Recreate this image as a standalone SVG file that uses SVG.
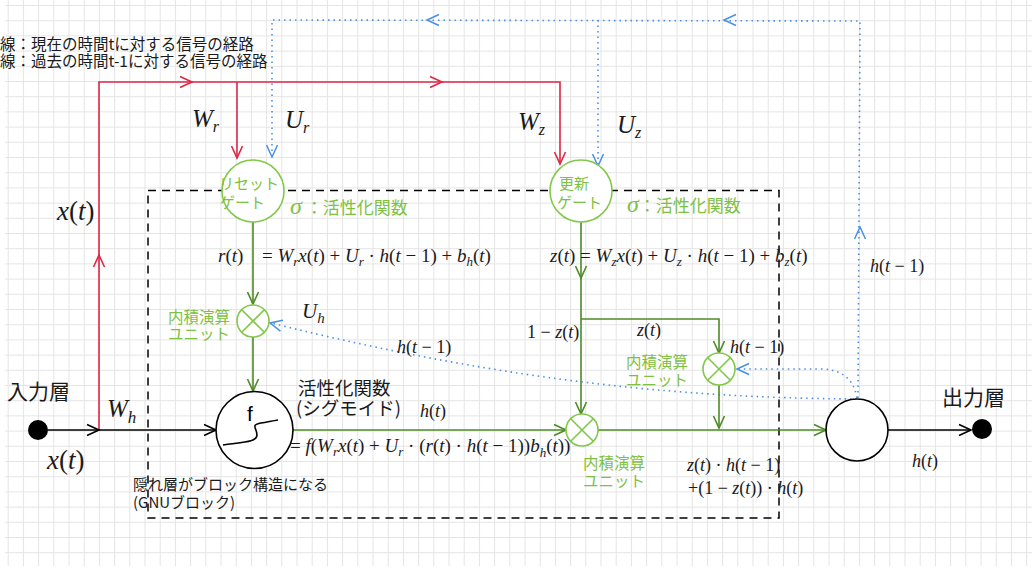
<svg xmlns="http://www.w3.org/2000/svg" width="1032" height="572" viewBox="0 0 1032 572">
<defs>
<pattern id="grid" x="7.7" y="5" width="15.2" height="15.2" patternUnits="userSpaceOnUse">
<path d="M0.5 0V15.2M0 0.5H15.2" stroke="#e4e4e4" stroke-width="1" fill="none"/>
</pattern>
<marker id="aR" markerUnits="userSpaceOnUse" markerWidth="16" markerHeight="16" refX="13" refY="7" orient="auto" overflow="visible"><path d="M1,1.5 L13,7 L1,12.5" fill="none" stroke="#dc2745" stroke-width="1.6"/></marker>
<marker id="aB" markerUnits="userSpaceOnUse" markerWidth="16" markerHeight="16" refX="13" refY="7" orient="auto" overflow="visible"><path d="M1,1.5 L13,7 L1,12.5" fill="none" stroke="#4a8fe6" stroke-width="1.5"/></marker>
<marker id="aG" markerUnits="userSpaceOnUse" markerWidth="16" markerHeight="16" refX="13" refY="7" orient="auto" overflow="visible"><path d="M1,1.5 L13,7 L1,12.5" fill="none" stroke="#4d8a26" stroke-width="1.6"/></marker>
<marker id="aK" markerUnits="userSpaceOnUse" markerWidth="16" markerHeight="16" refX="13" refY="7" orient="auto" overflow="visible"><path d="M1,1.5 L13,7 L1,12.5" fill="none" stroke="#000" stroke-width="1.6"/></marker>
<style>
.red{stroke:#dc2745;stroke-width:1.6;fill:none}
.blue{stroke:#4a8fe6;stroke-width:1.6;fill:none;stroke-dasharray:1.5 4}
.grn{stroke:#4d8a26;stroke-width:1.6;fill:none}
.blk{stroke:#000;stroke-width:1.6;fill:none}
.mk{fill:none;stroke:none}
.lg{stroke:#82c84a;stroke-width:1.6;fill:#fff}
.lgx{stroke:#82c84a;stroke-width:1.6;fill:none}
.nd{stroke:#000;stroke-width:1.6;fill:#fff}
.m{font-family:"Liberation Serif",serif;fill:#1a1a1a}
.i{font-style:italic}
.jp{font-family:"Noto Sans CJK JP",sans-serif;fill:#1a1a1a}
.gt{font-family:"Noto Sans CJK JP",sans-serif;fill:#7dc142}
.gs{font-family:"Liberation Serif",serif;font-style:italic;fill:#7dc142}
</style>
</defs>
<rect x="0" y="0" width="1032" height="572" fill="#fff"/>
<rect x="5" y="0" width="1027" height="566" fill="url(#grid)"/>

<g id="legend">
<text class="jp" x="0" y="50" font-size="15.5">線：現在の時間tに対する信号の経路</text>
<text class="jp" x="0" y="67" font-size="15.5">線：過去の時間t-1に対する信号の経路</text>
</g>

<g id="gru-block">
<rect x="148" y="190.5" width="631" height="327.5" fill="none" stroke="#000" stroke-width="1.5" stroke-dasharray="8 6"/>
<text class="jp" x="133" y="490" font-size="15">隠れ層がブロック構造になる</text>
<text class="jp" x="133" y="508" font-size="15">(GNUブロック)</text>
</g>

<g id="connectors">
<path class="red" d="M99,430 V82 H560 V164" marker-end="url(#aR)"/>
<path class="red" d="M237,82 V158" marker-end="url(#aR)"/>
<path class="mk" d="M180,82 H192" marker-end="url(#aR)"/>
<path class="mk" d="M430,82 H442" marker-end="url(#aR)"/>
<path class="mk" d="M99,268 V255" marker-end="url(#aR)"/>
<path class="blue" d="M858,398 L860,21 L272,20 V156"/>
<path class="mk" d="M272,140 V157" marker-end="url(#aB)"/>
<path class="blue" d="M598,20 V165"/>
<path class="mk" d="M598,150 V166" marker-end="url(#aB)"/>
<path class="mk" d="M860,240 V227" marker-end="url(#aB)"/>
<path class="mk" d="M440,20 H427" marker-end="url(#aB)"/>
<path class="mk" d="M737,20 H724" marker-end="url(#aB)"/>
<path class="blue" d="M857,399 C700,398 520,385 271,323"/>
<path class="mk" d="M283,326 L270,323" marker-end="url(#aB)"/>
<path class="blue" d="M857,398 Q852,369 820,369 H737"/>
<path class="mk" d="M750,369 H737" marker-end="url(#aB)"/>
<path class="grn" d="M253,222 V304" marker-end="url(#aG)"/>
<path class="grn" d="M253,337 V391" marker-end="url(#aG)"/>
<path class="grn" d="M293,430 H566" marker-end="url(#aG)"/>
<path class="grn" d="M598,430 H826" marker-end="url(#aG)"/>
<path class="grn" d="M581,222 V414" marker-end="url(#aG)"/>
<path class="mk" d="M581,265 V278" marker-end="url(#aG)"/>
<path class="grn" d="M581,319 H719 V353" marker-end="url(#aG)"/>
<path class="grn" d="M719,385 V428" marker-end="url(#aG)"/>
<path class="blk" d="M48,430 H99" marker-end="url(#aK)"/>
<path class="blk" d="M99,430 H216" marker-end="url(#aK)"/>
<path class="blk" d="M888,430 H971" marker-end="url(#aK)"/>
</g>

<g id="input-layer">
<circle cx="38" cy="430" r="10" fill="#000"/>
<text class="jp" x="7" y="399" font-size="21">入力層</text>
</g>

<g id="output-layer">
<circle cx="982" cy="429" r="10" fill="#000"/>
<text class="jp" x="942" y="405" font-size="21">出力層</text>
</g>

<g id="reset-gate">
<circle class="lg" cx="253" cy="191" r="31"/>
<text class="gt" x="219" y="189" font-size="15">リセット</text>
<text class="gt" x="220" y="208" font-size="15">ゲート</text>
<text x="290" y="214"><tspan class="gs" font-size="24">σ</tspan><tspan class="gt" font-size="17"> ：活性化関数</tspan></text>
</g>

<g id="update-gate">
<circle class="lg" cx="581" cy="191" r="31"/>
<text class="gt" x="559" y="189" font-size="15">更新</text>
<text class="gt" x="557" y="208" font-size="15">ゲート</text>
<text x="627" y="212"><tspan class="gs" font-size="24">σ</tspan><tspan class="gt" font-size="17">：活性化関数</tspan></text>
</g>

<g id="reset-product">
<circle class="lg" cx="253" cy="321" r="16"/>
<path class="lgx" d="M241.7,309.7 L264.3,332.3 M264.3,309.7 L241.7,332.3"/>
<text class="gt" x="168" y="323" font-size="15.5">内積演算</text>
<text class="gt" x="168" y="340" font-size="15.5">ユニット</text>
</g>

<g id="activation">
<circle class="nd" cx="254.5" cy="430" r="38.5"/>
<text x="247" y="421" font-family="Liberation Sans, sans-serif" font-size="21" fill="#000">f</text>
<path d="M223,445 C243,442 257,442 257,435 C257,428 250,425 261,423 C267,422 272,421 278,420" fill="none" stroke="#000" stroke-width="1.6"/>
<text class="jp" x="298" y="395" font-size="18.5">活性化関数</text>
<text class="jp" x="296" y="415" font-size="18.5">(シグモイド)</text>
</g>

<g id="main-product">
<circle class="lg" cx="582" cy="430" r="16"/>
<path class="lgx" d="M570.7,418.7 L593.3,441.3 M593.3,418.7 L570.7,441.3"/>
<text class="gt" x="583" y="469" font-size="15.5">内積演算</text>
<text class="gt" x="583" y="487" font-size="15.5">ユニット</text>
</g>

<g id="z-product">
<circle class="lg" cx="719" cy="369" r="16"/>
<path class="lgx" d="M707.7,357.7 L730.3,380.3 M730.3,357.7 L707.7,380.3"/>
<text class="gt" x="626" y="368" font-size="15.5">内積演算</text>
<text class="gt" x="626" y="386" font-size="15.5">ユニット</text>
</g>

<g id="output-unit">
<circle class="nd" cx="857" cy="430" r="31"/>
</g>

<g id="labels">
<text class="m" x="192" y="127" font-size="25"><tspan class="i">W</tspan><tspan class="i" font-size="16" dy="5">r</tspan></text>
<text class="m" x="285" y="128" font-size="25"><tspan class="i">U</tspan><tspan class="i" font-size="16" dy="5">r</tspan></text>
<text class="m" x="518" y="130" font-size="25"><tspan class="i">W</tspan><tspan class="i" font-size="16" dy="5">z</tspan></text>
<text class="m" x="617" y="133" font-size="25"><tspan class="i">U</tspan><tspan class="i" font-size="16" dy="5">z</tspan></text>
<text class="m" x="57" y="220" font-size="27"><tspan class="i">x</tspan>(<tspan class="i">t</tspan>)</text>
<text class="m" x="107" y="417" font-size="25"><tspan class="i">W</tspan><tspan class="i" font-size="17" dy="6">h</tspan></text>
<text class="m" x="47" y="469" font-size="27"><tspan class="i">x</tspan>(<tspan class="i">t</tspan>)</text>
<text class="m" x="302" y="318" font-size="21"><tspan class="i">U</tspan><tspan class="i" font-size="15" dy="5">h</tspan></text>
<text class="m" x="397" y="353" font-size="18"><tspan class="i">h</tspan>(<tspan class="i">t</tspan> − 1)</text>
<text class="m" x="527" y="338" font-size="18">1 − <tspan class="i">z</tspan>(<tspan class="i">t</tspan>)</text>
<text class="m" x="637" y="336" font-size="18"><tspan class="i">z</tspan>(<tspan class="i">t</tspan>)</text>
<text class="m" x="730" y="353" font-size="18"><tspan class="i">h</tspan>(<tspan class="i">t</tspan> − 1)</text>
<text class="m" x="870" y="272" font-size="18"><tspan class="i">h</tspan>(<tspan class="i">t</tspan> − 1)</text>
<text class="m" x="420" y="417" font-size="18"><tspan class="i">h</tspan>(<tspan class="i">t</tspan>)</text>
<text class="m" x="912" y="467" font-size="18"><tspan class="i">h</tspan>(<tspan class="i">t</tspan>)</text>
<text class="m" x="218" y="262" font-size="19"><tspan class="i">r</tspan>(<tspan class="i">t</tspan>)</text>
<text class="m" x="262" y="262" font-size="19">= <tspan class="i">W</tspan><tspan class="i" font-size="13" dy="4">r</tspan><tspan class="i" dy="-4">x</tspan>(<tspan class="i">t</tspan>) + <tspan class="i">U</tspan><tspan class="i" font-size="13" dy="4">r</tspan><tspan dy="-4"> · </tspan><tspan class="i">h</tspan>(<tspan class="i">t</tspan> − 1) + <tspan class="i">b</tspan><tspan class="i" font-size="13" dy="4">h</tspan><tspan dy="-4">(</tspan><tspan class="i">t</tspan>)</text>
<text class="m" x="550" y="262" font-size="19"><tspan class="i">z</tspan>(<tspan class="i">t</tspan>) = <tspan class="i">W</tspan><tspan class="i" font-size="13" dy="4">z</tspan><tspan class="i" dy="-4">x</tspan>(<tspan class="i">t</tspan>) + <tspan class="i">U</tspan><tspan class="i" font-size="13" dy="4">z</tspan><tspan dy="-4"> · </tspan><tspan class="i">h</tspan>(<tspan class="i">t</tspan> − 1) + <tspan class="i">b</tspan><tspan class="i" font-size="13" dy="4">z</tspan><tspan dy="-4">(</tspan><tspan class="i">t</tspan>)</text>
<text class="m" x="290" y="452" font-size="19">= <tspan class="i">f</tspan>(<tspan class="i">W</tspan><tspan class="i" font-size="13" dy="4">r</tspan><tspan class="i" dy="-4">x</tspan>(<tspan class="i">t</tspan>) + <tspan class="i">U</tspan><tspan class="i" font-size="13" dy="4">r</tspan><tspan dy="-4"> · (</tspan><tspan class="i">r</tspan>(<tspan class="i">t</tspan>) · <tspan class="i">h</tspan>(<tspan class="i">t</tspan> − 1))<tspan class="i">b</tspan><tspan class="i" font-size="13" dy="5">h</tspan><tspan dy="-5">(</tspan><tspan class="i">t</tspan>))</text>
<text class="m" x="687" y="471" font-size="18"><tspan class="i">z</tspan>(<tspan class="i">t</tspan>) · <tspan class="i">h</tspan>(<tspan class="i">t</tspan> − 1)</text>
<text class="m" x="688" y="494" font-size="18">+(1 − <tspan class="i">z</tspan>(<tspan class="i">t</tspan>)) · <tspan class="i">h</tspan>(<tspan class="i">t</tspan>)</text>
</g>
</svg>
